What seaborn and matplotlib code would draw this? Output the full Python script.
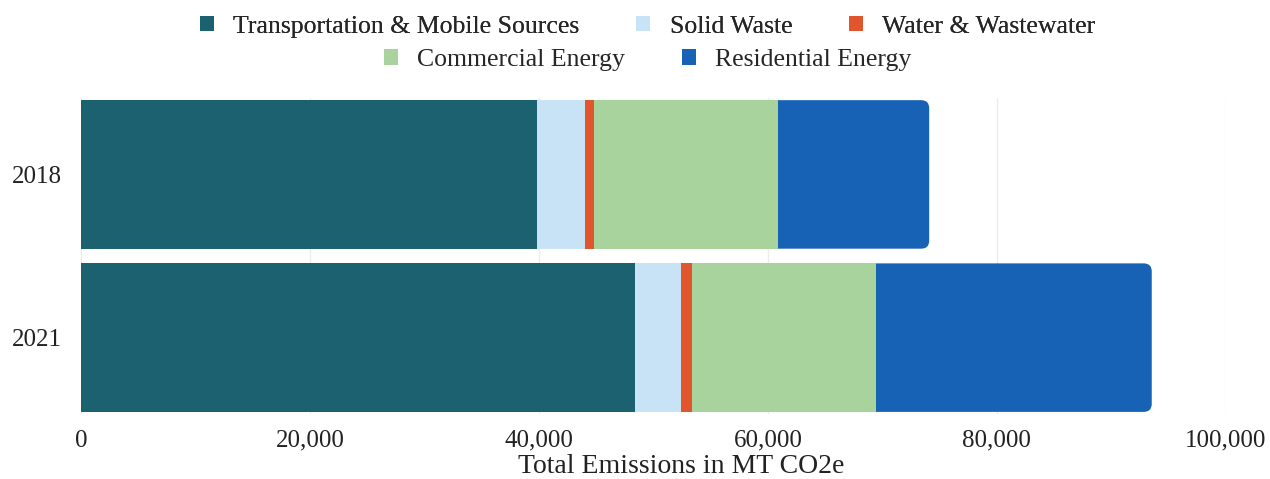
import matplotlib
matplotlib.use("Agg")
import matplotlib.pyplot as plt
from matplotlib.patches import FancyBboxPatch, Patch
import numpy as np
import pandas as pd
import seaborn as sns

years = ["2018", "2021"]
transport = [39800, 48400]
solid_waste = [4200, 4000]
water = [800, 950]
commercial = [16100, 16100]
residential = [13200, 24100]

sectors = ["Transportation & Mobile Sources", "Solid Waste", "Water & Wastewater",
           "Commercial Energy", "Residential Energy"]
colors = ["#1b6170", "#c8e2f6", "#e0552b", "#a9d39c", "#1762b4"]

sns.set_style("white")
plt.rcParams["font.family"] = ["Liberation Serif", "DejaVu Serif"]

series = [transport, solid_waste, water, commercial, residential]
cum = np.cumsum(np.array(series), axis=0)
df = pd.DataFrame({"year": years})
for name, vals in zip(sectors, cum):
    df[name] = vals

fig = plt.figure(figsize=(12.7, 4.79), dpi=100)
ax = fig.add_axes([0.064, 0.135, 0.901, 0.661])

# stacked bars: draw cumulative totals from largest to smallest
for i in range(len(sectors) - 1, -1, -1):
    n_before = len(ax.patches)
    sns.barplot(data=df, y="year", x=sectors[i], orient="h", color=colors[i],
                width=0.91, errorbar=None, saturation=1, linewidth=0,
                edgecolor="none", ax=ax, zorder=2)
    if i == len(sectors) - 1:
        # round the right end of the full bars
        for p in list(ax.patches[n_before:]):
            x0, y0 = p.get_x(), p.get_y()
            w, h = p.get_width(), p.get_height()
            rb = FancyBboxPatch((x0, y0), w, h,
                                boxstyle="round,pad=0,rounding_size=700",
                                mutation_aspect=7.0e-5,
                                facecolor=colors[i], edgecolor="none", lw=0, zorder=2)
            p.remove()
            ax.add_patch(rb)

ax.set_xlim(0, 100000)
ax.set_ylim(1.47, -0.47)
ax.set_xticks(np.arange(0, 100001, 20000))
ax.set_xticklabels([f"{v:,}" for v in range(0, 100001, 20000)])
ax.tick_params(axis="both", length=0, labelsize=18, colors="#222222")
ax.tick_params(axis="x", pad=11)
ax.tick_params(axis="y", pad=14)
ax.set_ylabel("")
ax.set_xlabel("Total Emissions in MT CO2e", fontsize=20, color="#222222", va="center")
ax.xaxis.set_label_coords(0.524, -0.165)
ax.grid(axis="x", color="#ececec", lw=1)
ax.set_axisbelow(True)
for s in ax.spines.values():
    s.set_visible(False)

handles = [Patch(facecolor=c, edgecolor="none") for c in colors]
leg1 = fig.legend(handles[:3], sectors[:3], loc="center", bbox_to_anchor=(0.51, 0.944),
                  ncol=3, frameon=False, fontsize=18.5, handlelength=0.55, handleheight=0.55,
                  handletextpad=0.75, columnspacing=2.2)
fig.add_artist(leg1)
fig.legend(handles[3:], sectors[3:], loc="center", bbox_to_anchor=(0.51, 0.875),
           ncol=2, frameon=False, fontsize=18.5, handlelength=0.55, handleheight=0.55,
           handletextpad=0.75, columnspacing=2.2)

fig.savefig("out.png", dpi=100)
